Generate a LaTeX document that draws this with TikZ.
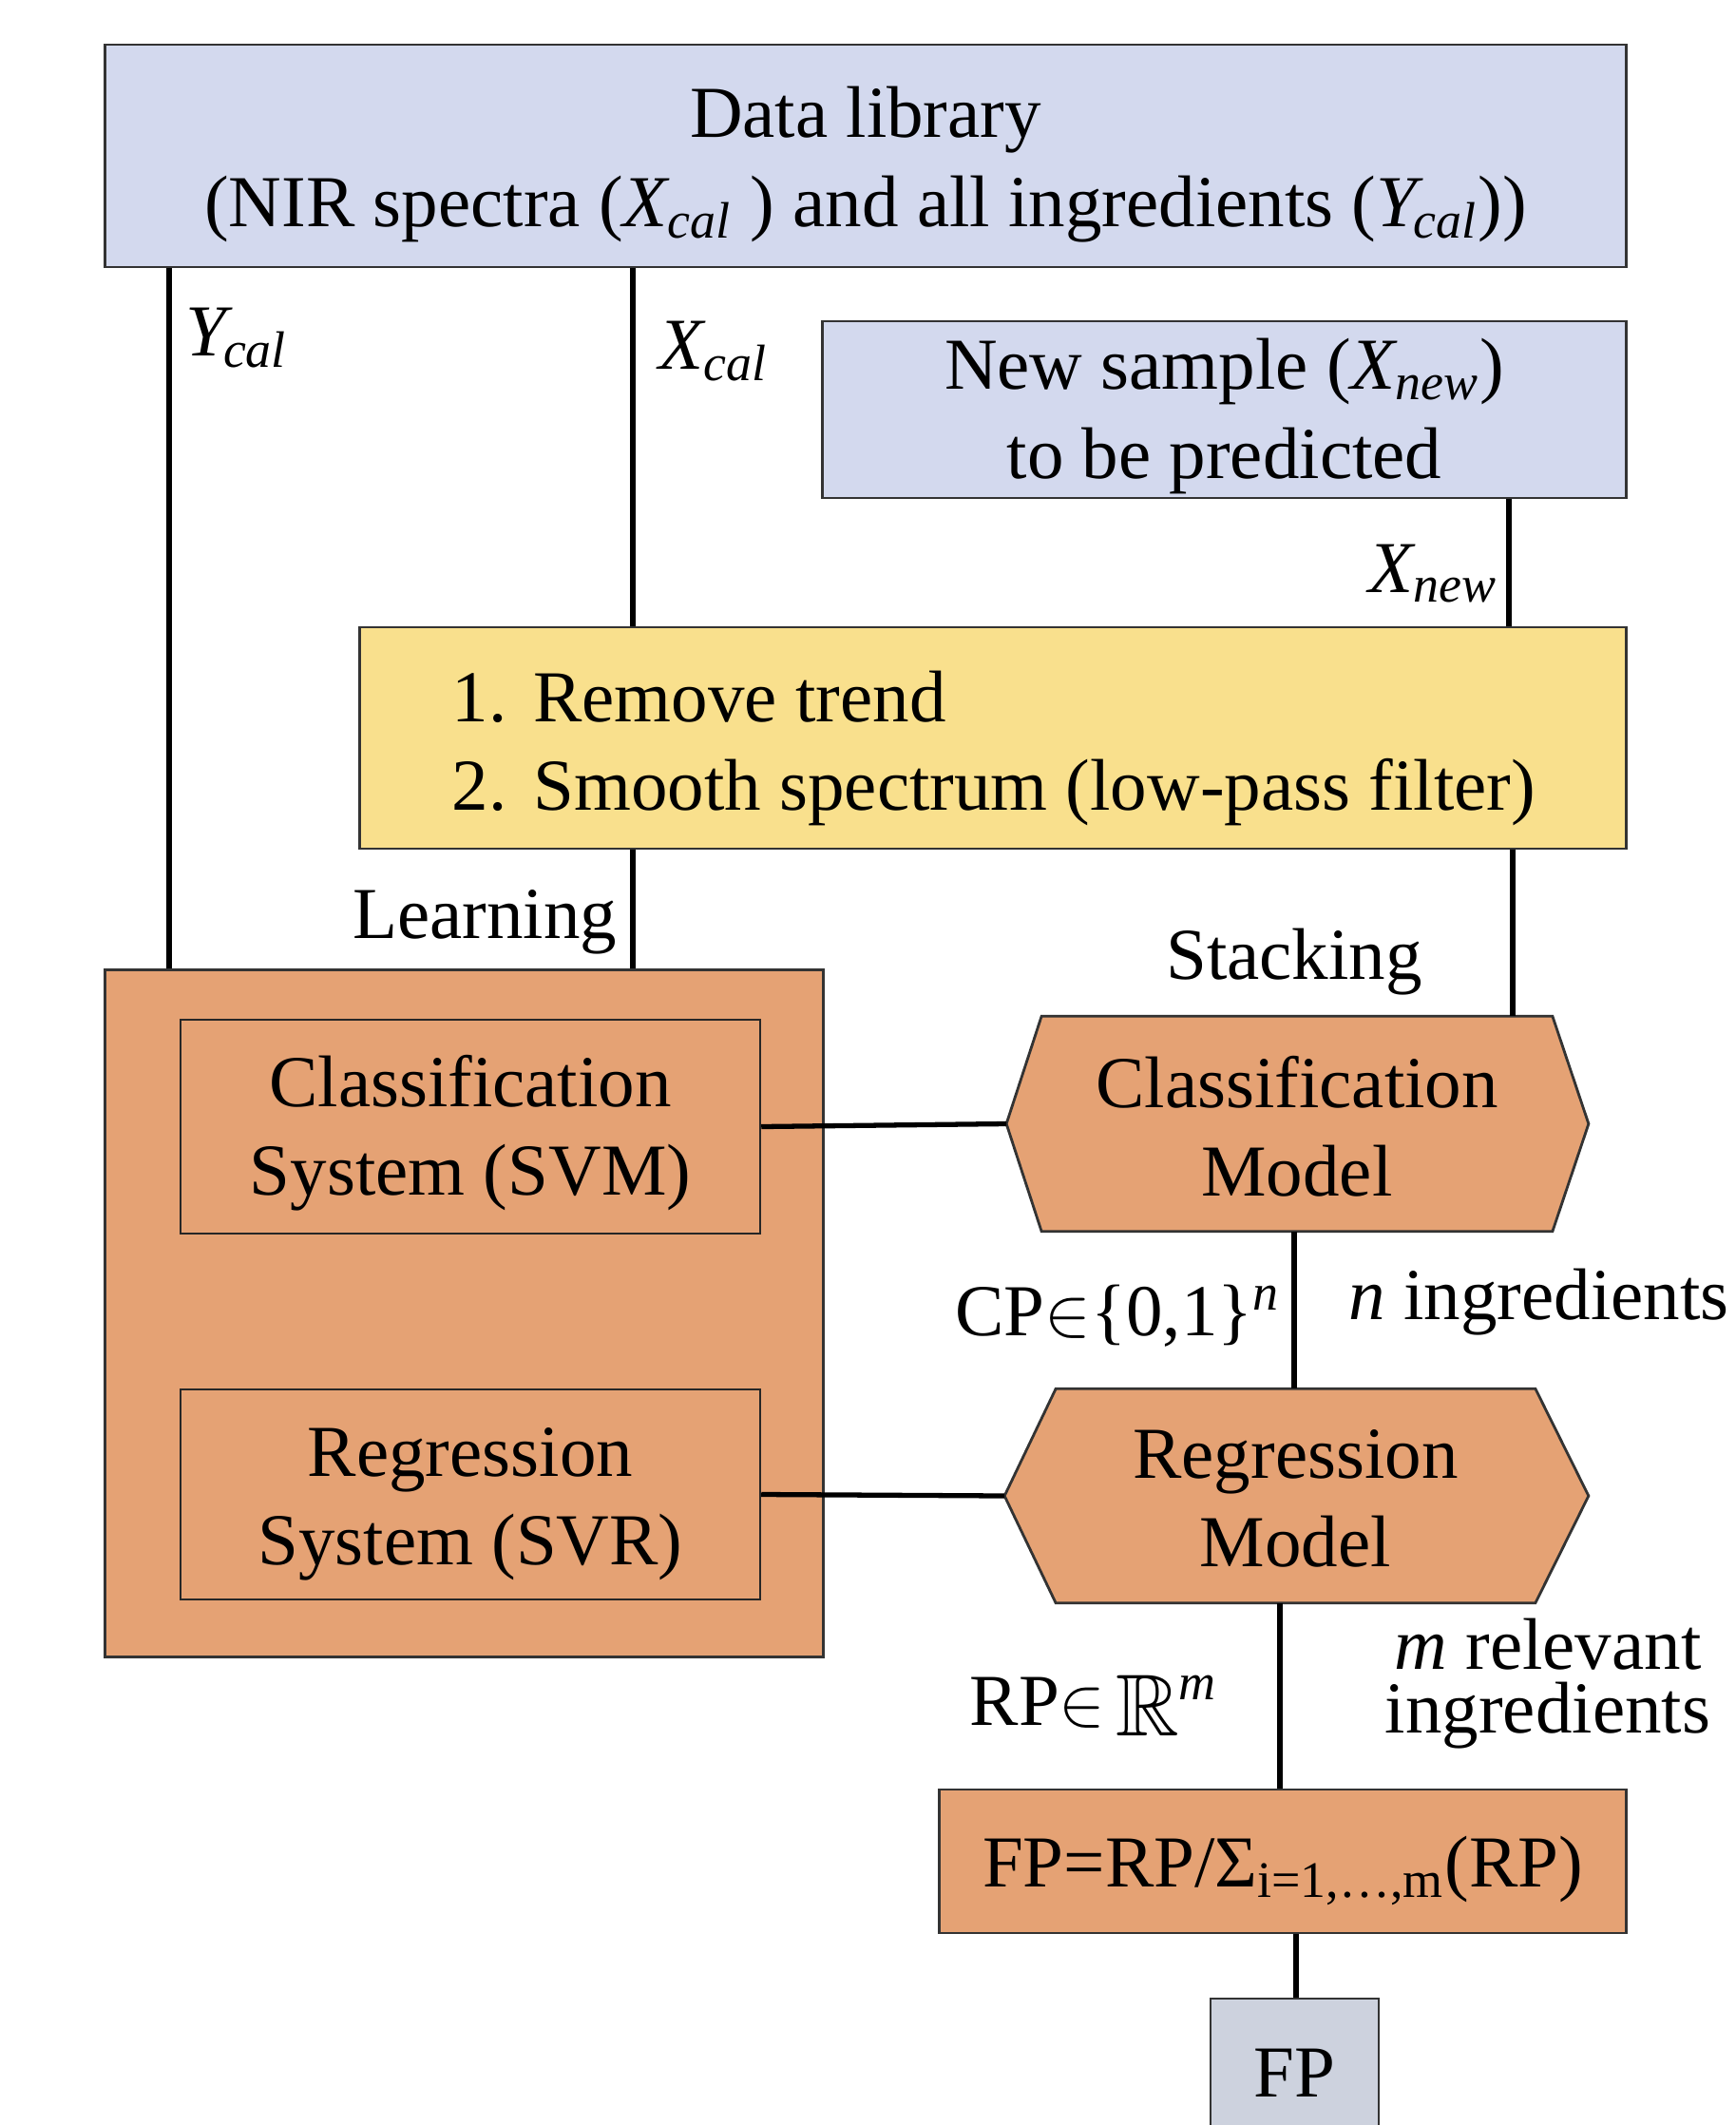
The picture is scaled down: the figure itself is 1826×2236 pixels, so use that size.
\documentclass[tikz,border=0pt]{standalone}
\usepackage{amssymb}
\usepackage{graphicx}
\usepackage{fontspec}
\setmainfont{Liberation Serif}
\usetikzlibrary{calc,backgrounds}

\definecolor{libfill}{RGB}{211,217,238}
\definecolor{prepfill}{RGB}{249,224,141}
\definecolor{learnfill}{RGB}{229,162,116}
\definecolor{outfill}{RGB}{205,210,222}

% italic symbol with italic subscript
\newcommand{\symsub}[2]{{\itshape #1}\textsubscript{\itshape #2}}

\begin{document}
\begin{tikzpicture}[x=0.01cm,y=-0.01cm,
  every node/.style={font=\fontsize{21.9pt}{26.5pt}\selectfont, inner sep=0pt, align=center},
  box/.style={draw=black!80, line width=0.8pt},
  libbox/.style={box, fill=libfill},
  prepbox/.style={box, fill=prepfill},
  orangebox/.style={box, fill=learnfill},
  innerbox/.style={draw=black!85, line width=0.6pt, fill=learnfill},
  outbox/.style={box, fill=outfill},
  hexfill/.style={draw=black!80, line width=0.8pt, fill=learnfill},
  conn/.style={line width=1.5pt, black}]

\useasboundingbox (0,0) rectangle (1826,2236);

% data sources
\node[libbox, minimum width=16cm, minimum height=2.34cm] (lib) at (911,164) {};
\node (lib-text) at ($(lib.center)+(0,9)$)
  {Data library\\(NIR spectra (\symsub{X}{cal} ) and all ingredients (\symsub{Y\kern-1pt}{cal}))};
\node[libbox, minimum width=8.45cm, minimum height=1.86cm] (new) at (1288.5,431) {};
\node (new-text) at ($(new.center)+(0,7)$) {New sample (\symsub{X}{new})\\to be predicted};

% preprocessing
\node[prepbox, minimum width=13.32cm, minimum height=2.33cm] (prep) at (1045,776.5) {};
\node[anchor=west] (steps) at (475,787)
  {\begin{tabular}{@{}l@{\hspace{0.28cm}}l@{}}1. & Remove trend\\2. & Smooth spectrum (low-pass filter)\end{tabular}};

% learning block
\node[orangebox, minimum width=7.55cm, minimum height=7.22cm] (learn) at (488.5,1382) {};
\node[innerbox, minimum width=6.10cm, minimum height=2.25cm] (cs) at (495,1185.5) {};
\node (cs-text) at ($(cs.center)+(0,7)$) {Classification\\System (SVM)};
\node[innerbox, minimum width=6.10cm, minimum height=2.21cm] (rs) at (495,1572.5) {};
\node (rs-text) at ($(rs.center)+(0,10)$) {Regression\\System (SVR)};

% stacked models (hexagons)
\node[minimum width=5.36cm, minimum height=2.25cm] (cm) at (1365,1182.5) {};
\node (cm-text) at ($(cm.center)+(0,3)$) {Classification\\Model};
\node[minimum width=5.03cm, minimum height=2.24cm] (rm) at (1363.5,1574) {};
\node (rm-text) at ($(rm.center)+(0,3)$) {Regression\\Model};
\coordinate (cmW) at ($(cm.west)+(-37,0)$);
\coordinate (cmE) at ($(cm.east)+(38,0)$);
\coordinate (rmW) at ($(rm.west)+(-54,0)$);
\coordinate (rmE) at ($(rm.east)+(56,0)$);
\begin{scope}[on background layer]
  \draw[hexfill] (cm.north west) -- (cm.north east) -- (cmE) -- (cm.south east) -- (cm.south west) -- (cmW) -- cycle;
  \draw[hexfill] (rm.north west) -- (rm.north east) -- (rmE) -- (rm.south east) -- (rm.south west) -- (rmW) -- cycle;
\end{scope}

% normalisation and output
\node[orangebox, minimum width=7.22cm, minimum height=1.51cm] (fml) at (1350,1958.5) {};
\node (fml-text) at ($(fml.center)+(0,10)$) {FP=RP/Σ\textsubscript{i=1,…,m}(RP)};
\node[outbox, minimum width=1.77cm, minimum height=1.57cm] (fp) at (1362.5,2181.5) {FP};

% connector columns
\coordinate (xY) at (178,0);
\coordinate (xX) at (666,0);
\coordinate (xN) at (1588,0);
\coordinate (xS) at (1592,0);
\coordinate (xC) at (1362,0);
\coordinate (xR) at (1347,0);
\coordinate (xF) at (1364,0);

\draw[conn] (lib.south -| xY) -- (learn.north -| xY);
\draw[conn] (lib.south -| xX) -- (prep.north -| xX);
\draw[conn] (new.south -| xN) -- (prep.north -| xN);
\draw[conn] (prep.south -| xX) -- (learn.north -| xX);
\draw[conn] (prep.south -| xS) -- (cm.north -| xS);
\draw[conn] (cs.east) -- (cmW);
\draw[conn] (rs.east) -- (rmW);
\draw[conn] (cm.south -| xC) -- (rm.north -| xC);
\draw[conn] (rm.south -| xR) -- (fml.north -| xR);
\draw[conn] (fml.south -| xF) -- (fp.north -| xF);

% labels
\node[anchor=base west] (ycal) at (195,374) {\symsub{Y\kern-1pt}{cal}};
\node[anchor=base west] (xcal) at (693,388) {\symsub{X}{cal}};
\node[anchor=base east] (xnew) at (1577,623) {\symsub{X}{new}};
\node[anchor=base east] (learnlbl) at (650,987) {Learning};
\node[anchor=base] (stacklbl) at (1362,1030) {Stacking};
\node[anchor=base east] (cplbl) at (1348,1405) {CP$\in$\{0,1\}\textsuperscript{\textit{n}}};
\node[anchor=base west] (nlbl) at (1419,1388) {\textit{n} ingredients};
\node[anchor=base west] (rplbl) at (1020,1815)
  {RP$\in$\kern3pt\raisebox{-0.15em}{\scalebox{1.2}{$\mathbb{R}$}}\textsuperscript{\textit{m}}};
\node[anchor=base] (mlbl1) at (1629,1756) {\textit{m} relevant};
\node[anchor=base] (mlbl2) at (1629,1823) {ingredients};

\end{tikzpicture}
\end{document}
